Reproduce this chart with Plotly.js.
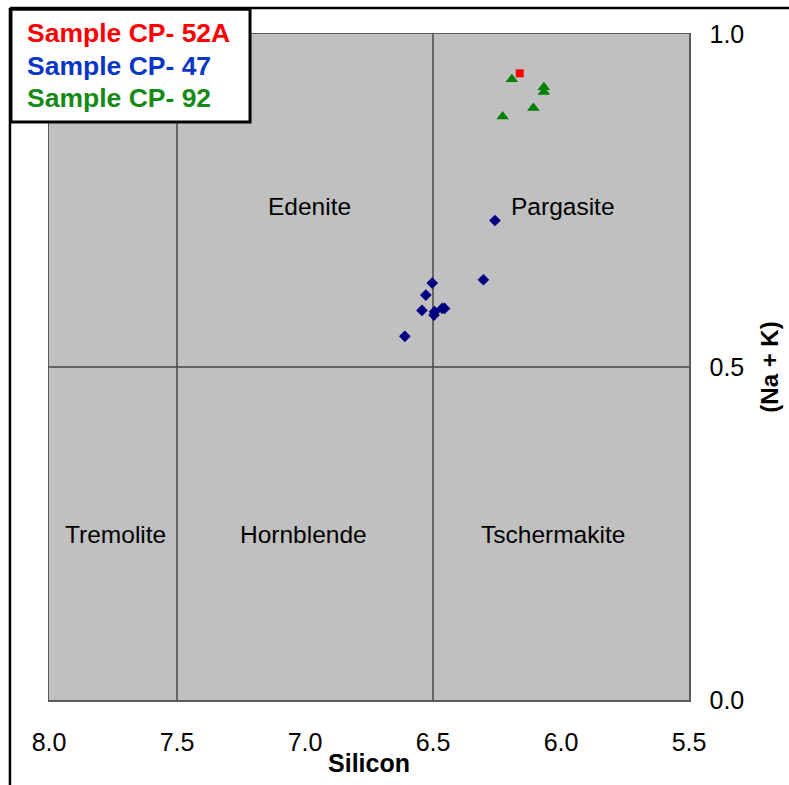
<!DOCTYPE html>
<html>
<head>
<meta charset="utf-8">
<script src="https://cdn.plot.ly/plotly-3.0.1.min.js"></script>
<style>html,body{margin:0;padding:0;background:#fff;}#chart{width:789px;height:785px;}</style>
</head>
<body>
<div id="chart"></div>
<script>
// Sample CP-52A (red squares)
const cp52aSi = [6.161];
const cp52aNaK = [0.941];
// Sample CP-47 (navy diamonds)
const cp47Si = [6.258, 6.303, 6.503, 6.528, 6.543, 6.494, 6.496, 6.464, 6.455, 6.610];
const cp47NaK = [0.720, 0.631, 0.626, 0.608, 0.585, 0.583, 0.578, 0.588, 0.588, 0.546];
// Sample CP-92 (green triangles)
const cp92Si = [6.192, 6.067, 6.067, 6.108, 6.228];
const cp92NaK = [0.932, 0.920, 0.913, 0.889, 0.876];

const legendLabels = ["Sample CP- 52A", "Sample CP- 47", "Sample CP- 92"];
const legendColors = ["#ff0000", "#0a36c8", "#168a16"];

// classification boundaries
const siBoundaries = [7.5, 6.5];
const nakBoundaries = [0.5];
const fieldNames = ["Edenite", "Pargasite", "Tremolite", "Hornblende", "Tschermakite"];
const fieldSi = [6.984, 5.992, 7.742, 7.004, 6.031];
const fieldNaK = [0.741, 0.741, 0.248, 0.248, 0.248];

const xTicks = [8.0, 7.5, 7.0, 6.5, 6.0, 5.5];
const yTicks = [0.0, 0.5, 1.0];

const FONT = 'Liberation Sans, Arial, sans-serif';

const traces = [
  {x: cp47Si, y: cp47NaK, type: 'scatter', mode: 'markers', name: legendLabels[1],
   marker: {symbol: 'diamond', size: 9, color: '#000080'}},
  {x: cp92Si, y: cp92NaK, type: 'scatter', mode: 'markers', name: legendLabels[2],
   marker: {symbol: 'triangle-up', size: 11, color: '#008000'}},
  {x: cp52aSi, y: cp52aNaK, type: 'scatter', mode: 'markers', name: legendLabels[0],
   marker: {symbol: 'square', size: 8, color: '#ff0000'}}
];

const shapes = [];
siBoundaries.forEach(v => shapes.push({type: 'line', xref: 'x', yref: 'y', x0: v, x1: v, y0: 0, y1: 1,
  line: {color: '#474747', width: 1.5}, layer: 'below'}));
nakBoundaries.forEach(v => shapes.push({type: 'line', xref: 'x', yref: 'y', x0: 8, x1: 5.5, y0: v, y1: v,
  line: {color: '#474747', width: 1.5}, layer: 'below'}));
// outer frame (top and left)
shapes.push({type: 'line', xref: 'paper', yref: 'paper', x0: -0.061, x1: 1.2, y0: 1.039, y1: 1.039,
  line: {color: '#000', width: 2.5}, layer: 'above'});
shapes.push({type: 'line', xref: 'paper', yref: 'paper', x0: -0.061, x1: -0.061, y0: 1.039, y1: -0.2,
  line: {color: '#000', width: 2.5}, layer: 'above'});
// legend box
shapes.push({type: 'rect', xref: 'paper', yref: 'paper', x0: -0.0594, x1: 0.3141, y0: 0.868, y1: 1.037,
  line: {color: '#000', width: 3}, fillcolor: '#ffffff', layer: 'above'});

const annotations = [];
fieldNames.forEach((n, i) => annotations.push({x: fieldSi[i], y: fieldNaK[i], xref: 'x', yref: 'y', text: n,
  showarrow: false, font: {family: FONT, size: 24.5, color: '#000'}}));
const legY = [1.0015, 0.952, 0.904];
legendLabels.forEach((t, i) => annotations.push({x: -0.0375, y: legY[i], xref: 'paper', yref: 'paper',
  xanchor: 'left', yanchor: 'middle', text: '<b>' + t + '</b>', showarrow: false,
  font: {family: FONT, size: 26.5, color: legendColors[i]}}));

const layout = {
  width: 789, height: 785,
  margin: {l: 49, r: 100, t: 34, b: 85, pad: 0},
  paper_bgcolor: '#ffffff', plot_bgcolor: '#c0c0c0',
  showlegend: false,
  font: {family: FONT, color: '#000'},
  xaxis: {range: [8, 5.5], tickvals: xTicks, ticktext: xTicks.map(v => v.toFixed(1)),
    showgrid: false, zeroline: false, showline: true, mirror: true, linecolor: '#5a5a5a', linewidth: 1.5,
    ticks: '', ticklabelstandoff: 19, tickfont: {size: 25},
    title: {text: '<b>Silicon</b>', font: {size: 25}, standoff: 0}},
  yaxis: {range: [0, 1], side: 'right', tickvals: yTicks, ticktext: yTicks.map(v => v.toFixed(1)),
    showgrid: false, zeroline: false, showline: true, mirror: true, linecolor: '#5a5a5a', linewidth: 1.5,
    ticks: '', ticklabelstandoff: 14, tickfont: {size: 25},
    title: {text: '<b>(Na + K)</b>', font: {size: 24}, standoff: 18}},
  shapes: shapes,
  annotations: annotations
};

Plotly.newPlot('chart', traces, layout, {staticPlot: true, displayModeBar: false});
</script>
</body>
</html>
